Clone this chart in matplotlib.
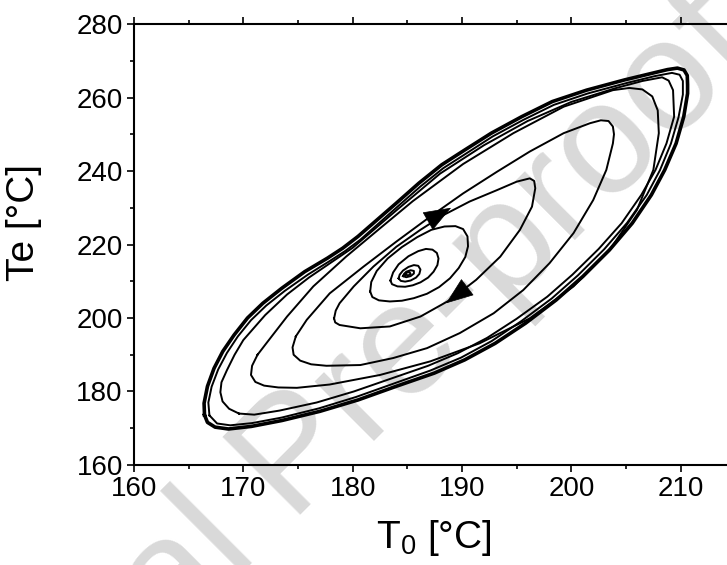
import numpy as np
import matplotlib
matplotlib.use("Agg")
import matplotlib.pyplot as plt

plt.rcParams['font.family'] = ['Liberation Sans', 'DejaVu Sans']
plt.rcParams['mathtext.fontset'] = 'custom'
plt.rcParams['mathtext.rm'] = 'Liberation Sans'
plt.rcParams['mathtext.it'] = 'Liberation Sans:italic'

# phase trajectory T0 / Te, one list pair per turn (inner -> outer)
t0_core = [184.8, 185.1, 185.3, 185.2, 184.9]
te_core = [211.8, 211.6, 212.0, 212.5, 212.3]

t0_turn0 = [184.6, 184.9, 185.3, 185.6, 185.6, 185.3, 184.9, 184.7]
te_turn0 = [211.4, 211.1, 211.4, 212.1, 212.8, 213.0, 212.6, 212.0]

t0_turn1 = [184.2, 184.4, 184.8, 185.3, 185.8, 186.1, 186.2, 186.0, 185.6, 185.1, 184.6, 184.3]
te_turn1 = [210.8, 210.1, 209.9, 210.2, 211.0, 212.0, 213.2, 214.2, 214.4, 213.9, 212.9, 211.8]

t0_turn2 = [183.45, 183.6, 184.1, 184.8, 185.5, 186.2, 186.9, 187.4, 187.75, 187.85, 187.7,
            187.3, 186.7, 186.0, 185.1, 184.2, 183.7]
te_turn2 = [210.2, 209.2, 208.6, 208.5, 208.9, 209.7, 211.0, 212.6, 214.4, 216.2, 217.7,
            218.6, 218.8, 218.2, 216.8, 214.6, 212.4]

t0_turn3 = [181.6, 181.8, 182.4, 183.4, 184.5, 185.6, 186.8, 187.9, 188.9, 189.7, 190.3,
            190.55, 190.5, 190.1, 189.4, 188.4, 187.2, 185.9, 184.5, 183.2, 182.2, 181.7]
te_turn3 = [207.2, 205.7, 204.8, 204.5, 204.7, 205.4, 206.6, 208.4, 210.8, 213.6, 216.6,
            219.5, 222.2, 224.2, 225.0, 224.9, 224.0, 222.0, 219.3, 216.2, 212.8, 209.8]

t0_turn4 = [178.3, 178.45, 178.8, 180.1, 181.9, 184.0, 186.2, 188.3, 190.7, 193.2, 195.0, 196.2,
            196.6, 196.7, 196.4, 195.3, 193.5, 191.3, 188.9, 186.2, 183.4, 180.7, 178.8, 178.4]
te_turn4 = [199.9, 202.0, 204.0, 208.6, 214.0, 219.4, 224.0, 228.0, 231.7, 234.8, 237.1, 238.0,
            237.3, 235.3, 230.3, 224.0, 216.7, 210.4, 204.9, 200.4, 197.7, 197.2, 198.1, 198.8]

t0_turn5 = [174.8, 175.8, 177.9, 181.0, 184.0, 187.1, 190.1, 193.2, 196.2, 199.3, 201.7, 202.7,
            203.4, 203.8, 203.9, 203.8, 203.2, 202.0, 200.2, 198.0, 195.6, 192.9, 189.8, 186.8,
            183.7, 180.7, 177.6, 176.2, 175.2, 174.6, 174.5]
te_turn5 = [195.0, 199.5, 206.7, 214.0, 220.8, 227.6, 233.9, 239.8, 245.3, 250.3, 253.0, 253.8,
            253.6, 252.1, 250.0, 247.5, 240.3, 232.1, 223.1, 214.9, 207.6, 201.3, 195.9, 191.8,
            189.1, 187.2, 187.0, 187.4, 188.4, 190.0, 192.0]

t0_turn6 = [171.3, 170.8, 170.7, 171.1, 171.9, 173.2, 174.9, 177.9, 182.5, 187.1, 191.6, 196.2,
            200.2, 203.5, 206.0, 207.5, 208.0, 207.9, 207.4, 206.5, 205.3, 203.8, 199.3, 194.7,
            190.1, 185.5, 182.5, 179.4, 176.4, 174.0, 172.1]
te_turn6 = [190.0, 187.0, 184.5, 182.6, 181.6, 181.1, 181.0, 181.9, 184.5, 188.2, 193.1, 199.9,
            208.6, 218.5, 229.4, 240.3, 250.3, 256.5, 260.3, 262.2, 262.6, 262.0, 257.5, 250.3,
            241.9, 231.8, 224.4, 216.7, 208.6, 200.4, 193.1]

t0_turn7 = [169.6, 168.7, 168.1, 167.9, 168.0, 168.5, 169.2, 170.0, 172.0, 174.0, 176.0, 180.0,
            184.0, 188.0, 192.0, 196.0, 200.0, 204.0, 206.5, 208.3, 208.9, 209.3, 209.4, 208.7,
            207.7, 206.4, 204.6, 202.5, 200.1, 197.8, 195.0, 192.3, 189.6, 186.9, 183.5, 180.1,
            176.7, 173.3, 171.0]
te_turn7 = [174.0, 175.3, 177.3, 179.8, 182.5, 185.8, 190.0, 194.0, 200.8, 206.4, 211.0, 219.1,
            229.3, 239.3, 247.0, 253.6, 258.8, 262.5, 264.5, 265.5, 264.6, 262.0, 254.8, 247.5,
            240.3, 233.5, 225.8, 218.8, 211.8, 205.8, 199.8, 194.6, 190.4, 187.0, 183.5, 180.0,
            177.0, 174.8, 173.7]

t0_turn8 = [166.9, 166.8, 167.1, 167.7, 168.5, 169.5, 170.7, 172.1, 173.8, 175.9, 177.9, 179.3,
            180.7, 182.4, 184.1, 186.2, 188.3, 190.4, 192.8, 195.6, 198.4, 201.5, 205.0, 207.6,
            209.2, 209.9, 210.2, 210.2, 209.8, 209.1, 208.1, 206.9, 205.1, 203.0, 200.6, 198.2,
            195.4, 192.7, 189.9, 187.1, 183.7, 180.3, 176.9, 173.5, 170.8, 168.8, 167.6]
te_turn8 = [173.5, 177.0, 181.3, 186.0, 190.5, 195.0, 199.4, 203.4, 207.4, 211.8, 215.5, 218.2,
            221.3, 225.8, 230.3, 235.8, 240.8, 244.8, 249.4, 253.9, 258.0, 261.1, 263.9, 265.8,
            266.7, 266.2, 264.5, 260.8, 254.6, 247.4, 240.2, 233.5, 225.9, 218.7, 211.6, 205.3,
            199.1, 193.7, 189.2, 185.7, 182.1, 178.5, 175.4, 172.9, 171.4, 170.8, 171.3]

# limit cycle
t0_cycle = [166.45, 166.41, 166.72, 167.32, 168.12, 169.16, 170.38, 171.78, 173.52, 175.61,
            177.70, 179.09, 180.49, 182.23, 183.97, 186.06, 188.15, 190.24, 192.68, 195.47,
            198.26, 201.39, 204.88, 207.67, 208.8, 209.7, 210.3, 210.6, 210.63, 210.63, 210.28,
            209.58, 208.54, 207.32, 205.57, 203.48, 201.05, 198.61, 195.82, 193.03, 190.24,
            187.46, 183.97, 180.49, 177.00, 173.52, 170.73, 168.64, 167.42, 166.72]
te_cycle = [173.6, 176.8, 181.4, 186.3, 190.9, 195.4, 200.0, 204.0, 208.1, 212.6,
            216.3, 219.0, 222.2, 226.7, 231.2, 236.7, 241.7, 245.7, 250.3, 254.8,
            258.9, 262.0, 264.8, 266.8, 267.6, 268.0, 267.5, 266.0, 263.5, 261.1, 254.8,
            247.5, 240.3, 233.5, 225.8, 218.5, 211.3, 204.9, 198.6, 193.1, 188.6,
            185.0, 181.4, 177.7, 174.6, 172.1, 170.5, 169.8, 170.3, 171.6]

# direction arrows on turn 4: (tail, head)
arrow_up = ((187.25, 227.0), (189.0, 230.0))
arrow_down = ((190.14, 207.6), (188.54, 204.0))

fig = plt.figure(figsize=(7.27, 5.65), dpi=100)
fig.text(0.4085, 0.186, 'Journal Pre-proof', fontsize=115, color='#d9d9d9',
         rotation=45, rotation_mode='anchor', ha='center', va='center', zorder=-5)

ax = fig.add_axes([0.1843, 0.177, 0.9024, 0.7805])
ax.set_facecolor('none')

turns = [(t0_core, te_core), (t0_turn0, te_turn0), (t0_turn1, te_turn1),
         (t0_turn2, te_turn2), (t0_turn3, te_turn3), (t0_turn4, te_turn4),
         (t0_turn5, te_turn5), (t0_turn6, te_turn6), (t0_turn7, te_turn7),
         (t0_turn8, te_turn8)]
for t0, te in turns:
    ax.plot(t0 + t0[:1], te + te[:1], color='k', lw=1.4, solid_joinstyle='round')
ax.plot(t0_cycle + t0_cycle[:1], te_cycle + te_cycle[:1], color='k', lw=2.6,
        solid_joinstyle='round')

for tail, head in (arrow_up, arrow_down):
    ax.annotate('', xy=head, xytext=tail,
                arrowprops=dict(arrowstyle='-|>,head_length=0.8,head_width=0.3',
                                color='k', lw=0.5, shrinkA=0, shrinkB=0,
                                mutation_scale=23))

ax.set_xlim(160, 220)
ax.set_ylim(160, 280)
ax.set_xticks(np.arange(160, 211, 10))
ax.set_xticks(np.arange(165, 220, 10), minor=True)
ax.set_yticks(np.arange(160, 281, 20))
ax.set_yticks(np.arange(170, 280, 20), minor=True)
ax.tick_params(which='major', direction='out', length=5, width=1.2, labelsize=20, pad=3)
ax.tick_params(which='minor', direction='out', length=3, width=1.2)
ax.tick_params(which='both', top=True, right=False)
for side in ('left', 'bottom', 'top'):
    ax.spines[side].set_linewidth(1.5)

ax.set_xlabel('T$_\\mathregular{0}$ [°C]', fontsize=28)
ax.set_ylabel('Te [°C]', fontsize=28)
ax.xaxis.set_label_coords(0.457, -0.12)
ax.yaxis.set_label_coords(-0.14, 0.55)

fig.savefig('out.png', dpi=100)
